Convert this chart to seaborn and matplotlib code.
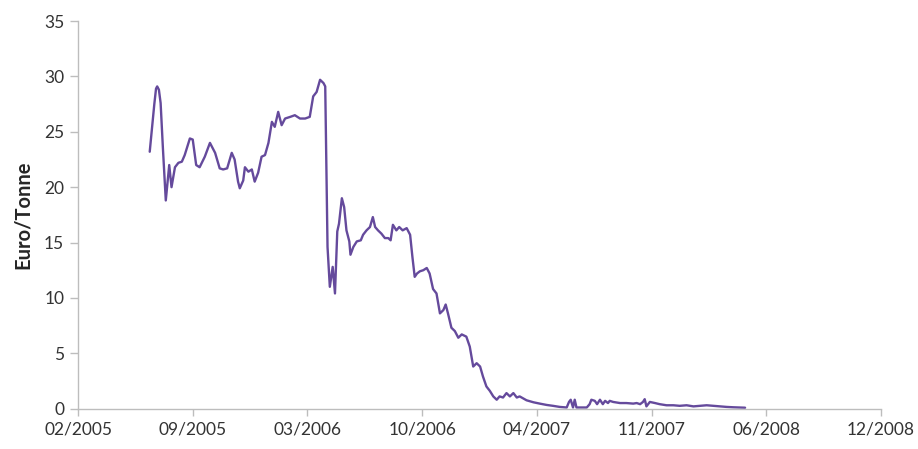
import matplotlib
matplotlib.use("Agg")
import matplotlib.pyplot as plt
import seaborn as sns
import pandas as pd

# ---- data ----
dates = [
    "2005-06-23", "2005-07-01", "2005-07-04", "2005-07-06", "2005-07-09", "2005-07-12",
    "2005-07-16", "2005-07-21", "2005-07-27", "2005-07-31", "2005-08-06", "2005-08-12",
    "2005-08-18", "2005-08-23", "2005-09-01", "2005-09-06", "2005-09-12", "2005-09-18",
    "2005-09-27", "2005-10-06", "2005-10-15", "2005-10-23", "2005-10-29", "2005-11-05",
    "2005-11-13", "2005-11-18", "2005-11-24", "2005-11-27", "2005-12-03", "2005-12-06",
    "2005-12-12", "2005-12-18", "2005-12-23", "2005-12-29", "2006-01-04", "2006-01-10",
    "2006-01-16", "2006-01-22", "2006-01-27", "2006-02-02", "2006-02-08", "2006-02-14",
    "2006-02-23", "2006-03-03", "2006-03-12", "2006-03-21", "2006-03-29", "2006-04-04",
    "2006-04-10", "2006-04-16", "2006-04-22", "2006-04-25", "2006-04-29", "2006-05-03",
    "2006-05-08", "2006-05-12", "2006-05-16", "2006-05-19", "2006-05-24", "2006-05-28",
    "2006-06-01", "2006-06-06", "2006-06-08", "2006-06-13", "2006-06-19", "2006-06-26",
    "2006-06-30", "2006-07-06", "2006-07-12", "2006-07-17", "2006-07-21", "2006-07-26",
    "2006-08-01", "2006-08-07", "2006-08-13", "2006-08-17", "2006-08-21", "2006-08-27",
    "2006-09-01", "2006-09-07", "2006-09-14", "2006-09-20", "2006-09-24", "2006-09-28",
    "2006-10-02", "2006-10-07", "2006-10-13", "2006-10-19", "2006-10-24", "2006-10-30",
    "2006-11-05", "2006-11-11", "2006-11-17", "2006-11-21", "2006-11-25", "2006-12-01",
    "2006-12-07", "2006-12-13", "2006-12-19", "2006-12-27", "2007-01-02", "2007-01-08",
    "2007-01-14", "2007-01-20", "2007-01-25", "2007-01-31", "2007-02-06", "2007-02-12",
    "2007-02-18", "2007-02-23", "2007-03-01", "2007-03-07", "2007-03-13", "2007-03-19",
    "2007-03-25", "2007-03-30", "2007-04-11", "2007-04-23", "2007-05-04", "2007-05-16",
    "2007-05-27", "2007-06-08", "2007-06-20", "2007-06-24", "2007-06-27", "2007-07-01",
    "2007-07-04", "2007-07-07", "2007-07-25", "2007-07-30", "2007-08-02", "2007-08-08",
    "2007-08-12", "2007-08-17", "2007-08-22", "2007-08-26", "2007-08-31", "2007-09-03",
    "2007-09-09", "2007-09-21", "2007-10-02", "2007-10-14", "2007-10-20", "2007-10-26",
    "2007-10-31", "2007-11-03", "2007-11-06", "2007-11-12", "2007-11-21", "2007-11-29",
    "2007-12-11", "2007-12-23", "2008-01-03", "2008-01-15", "2008-01-27", "2008-02-07",
    "2008-02-19", "2008-03-02", "2008-03-13", "2008-03-25", "2008-04-05", "2008-04-17",
    "2008-04-26",
]
prices = [
    23.2, 27.5, 28.9, 29.1, 28.8, 27.6,
    23.5, 18.8, 22.0, 20.0, 21.8, 22.2,
    22.3, 22.9, 24.4, 24.3, 22.0, 21.8,
    22.75, 24.0, 23.1, 21.7, 21.6, 21.7,
    23.1, 22.5, 20.5, 19.9, 20.6, 21.8,
    21.4, 21.6, 20.5, 21.3, 22.75, 22.9,
    24.0, 25.9, 25.45, 26.8, 25.6, 26.2,
    26.35, 26.5, 26.2, 26.2, 26.35, 28.2,
    28.6, 29.7, 29.4, 29.1, 14.6, 11.0,
    12.8, 10.4, 16.0, 16.7, 19.0, 18.2,
    16.1, 15.1, 13.9, 14.6, 15.1, 15.2,
    15.7, 16.1, 16.4, 17.3, 16.4, 16.1,
    15.8, 15.4, 15.4, 15.2, 16.6, 16.1,
    16.4, 16.1, 16.3, 15.7, 13.7, 11.9,
    12.2, 12.4, 12.5, 12.7, 12.2, 10.8,
    10.4, 8.6, 8.9, 9.4, 8.6, 7.3,
    7.0, 6.4, 6.7, 6.5, 5.6, 3.8,
    4.1, 3.8, 2.9, 2.0, 1.6, 1.1,
    0.8, 1.1, 1.0, 1.4, 1.1, 1.4,
    1.0, 1.1, 0.75, 0.57, 0.45, 0.33,
    0.25, 0.15, 0.1, 0.6, 0.8, 0.1,
    0.8, 0.1, 0.1, 0.4, 0.8, 0.7,
    0.4, 0.8, 0.4, 0.7, 0.5, 0.7,
    0.6, 0.5, 0.5, 0.45, 0.5, 0.4,
    0.6, 0.85, 0.2, 0.6, 0.5, 0.4,
    0.3, 0.3, 0.25, 0.3, 0.2, 0.25,
    0.3, 0.25, 0.2, 0.15, 0.12, 0.1,
    0.08,
]
x_tick_labels = ["02/2005", "09/2005", "03/2006", "10/2006",
                 "04/2007", "11/2007", "06/2008", "12/2008"]
y_ticks = [0, 5, 10, 15, 20, 25, 30, 35]
y_label = "Euro/Tonne"

# ---- figure ----
sns.set_theme(style="ticks")
plt.rcParams["font.family"] = ["Lato", "DejaVu Sans"]

df = pd.DataFrame({"date": pd.to_datetime(dates), "price": prices})

fig = plt.figure(figsize=(9.18, 4.49), dpi=100)
ax = fig.add_axes([0.085, 0.090, 0.8747, 0.863])

sns.lineplot(data=df, x="date", y="price", ax=ax, color="#654a9c", linewidth=1.7)

axis_start = pd.Timestamp("2005-02-18")
step = pd.Timedelta(days=200)
tick_pos = [axis_start + i * step for i in range(len(x_tick_labels))]
ax.set_xlim(tick_pos[0], tick_pos[-1])
ax.set_xticks(tick_pos)
ax.set_xticklabels(x_tick_labels)

ax.set_ylim(0, 35)
ax.set_yticks(y_ticks)

ax.set_xlabel("")
ax.set_ylabel(y_label, fontsize=14.5, fontweight="bold", color="#262626", labelpad=8)

for side in ("top", "right"):
    ax.spines[side].set_visible(False)
for side in ("left", "bottom"):
    ax.spines[side].set_color("#bdbdbd")
    ax.spines[side].set_linewidth(1.0)

ax.tick_params(axis="both", direction="out", colors="#bdbdbd", labelcolor="#333333",
               labelsize=12.5, width=1.0)
ax.tick_params(axis="y", length=6, pad=4)
ax.tick_params(axis="x", length=5, pad=4)
ax.grid(False)

fig.savefig("out.png", dpi=100, facecolor="white")
